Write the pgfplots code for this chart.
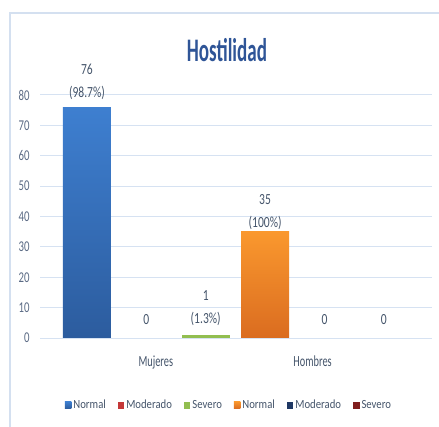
\documentclass[border=0pt]{standalone}
\usepackage{pgfplots}
\pgfplotsset{compat=1.18}
\usepackage{fontspec}
\setmainfont[FakeStretch=0.7]{Carlito}
\newfontfamily\titlefont[FakeStretch=0.58]{Carlito}
\newfontfamily\tickfont[FakeStretch=0.72]{Carlito}
\newfontfamily\catfont[FakeStretch=0.67]{Carlito}
\newfontfamily\legfont[FakeStretch=0.86]{Carlito}
\newfontfamily\labfont[FakeStretch=0.75]{Carlito}
\definecolor{blueTop}{RGB}{62,127,208}
\definecolor{blueBot}{RGB}{44,92,158}
\definecolor{orangeTop}{RGB}{250,152,46}
\definecolor{orangeBot}{RGB}{218,108,32}
\definecolor{sevGreen}{RGB}{146,190,80}
\definecolor{modRed}{RGB}{196,56,56}
\definecolor{modNavy}{RGB}{31,56,100}
\definecolor{sevDark}{RGB}{128,30,30}
\definecolor{labc}{RGB}{68,84,106}
\definecolor{tickc}{RGB}{90,106,132}
\definecolor{titlec}{RGB}{47,85,151}
\definecolor{gridc}{RGB}{214,226,242}
\definecolor{framec}{RGB}{212,224,240}
\begin{document}
\begin{tikzpicture}
\path[use as bounding box] (0bp,0bp) rectangle (439bp,427bp);
\draw[framec, line width=1.2bp] (10bp,0bp) -- (10bp,414bp) -- (439bp,414bp);
\begin{axis}[
  at={(40bp,89bp)}, anchor=south west,
  scale only axis, width=392bp, height=243bp,
  xmin=-0.79, xmax=5.81, ymin=0, ymax=80,
  ytick={0,10,...,80},
  ymajorgrids, grid style={gridc, line width=1bp},
  axis line style={draw=none}, tick style={draw=none},
  xtick={1.16,3.8}, xticklabels={Mujeres,Hombres},
  xticklabel style={font=\catfont\fontsize{15.5}{18}\selectfont, color=labc, yshift=-10bp},
  yticklabel style={font=\tickfont\fontsize{15}{18}\selectfont, color=tickc, xshift=-7bp},
  /pgf/number format/assume math mode=true,
  title={\textbf{Hostilidad}},
  title style={at={(0.477,1.16)}, anchor=center, font=\titlefont\fontsize{33}{38}\selectfont, color=titlec},
  ybar, bar shift=0pt, bar width=0.81,
  clip=false,
  nodes near coords,
  every node near coord/.append style={font=\labfont\fontsize{15.5}{23}\selectfont, color=labc, align=center, inner sep=0pt, yshift=9bp},
  legend columns=6,
  legend style={at={(0.482,-0.276)}, anchor=center, draw=none, fill=none,
    font=\legfont\fontsize{12.5}{14}\selectfont, text=labc,
    /tikz/every even column/.append style={column sep=10bp},
    /tikz/every odd column/.append style={column sep=0bp}},
  legend image code/.code={\fill[#1] (0bp,-3.5bp) rectangle (6.5bp,3.5bp);},
]
\addplot[draw=none, top color=blueTop, bottom color=blueBot, nodes near coords={76\\(98.7\%)},
  every node near coord/.append style={yshift=-2bp}] coordinates {(0,76)};
\addlegendentry{Normal}
\addplot[draw=none, fill=none, nodes near coords={0},
  every node near coord/.append style={yshift=4bp},
  legend image code/.code={\fill[modRed] (0bp,-3.5bp) rectangle (6.5bp,3.5bp);}] coordinates {(1,0)};
\addlegendentry{Moderado}
\addplot[draw=none, fill=sevGreen, nodes near coords={1\\(1.3\%)}] coordinates {(2,1)};
\addlegendentry{Severo}
\addplot[draw=none, top color=orangeTop, bottom color=orangeBot, nodes near coords={35\\(100\%)},
  every node near coord/.append style={yshift=-7bp}] coordinates {(3,35)};
\addlegendentry{Normal}
\addplot[draw=none, fill=none, nodes near coords={0},
  every node near coord/.append style={yshift=4bp},
  legend image code/.code={\fill[modNavy] (0bp,-3.5bp) rectangle (6.5bp,3.5bp);}] coordinates {(4,0)};
\addlegendentry{Moderado}
\addplot[draw=none, fill=none, nodes near coords={0},
  every node near coord/.append style={yshift=4bp},
  legend image code/.code={\fill[sevDark] (0bp,-3.5bp) rectangle (6.5bp,3.5bp);}] coordinates {(5,0)};
\addlegendentry{Severo}
\end{axis}
\end{tikzpicture}
\end{document}
